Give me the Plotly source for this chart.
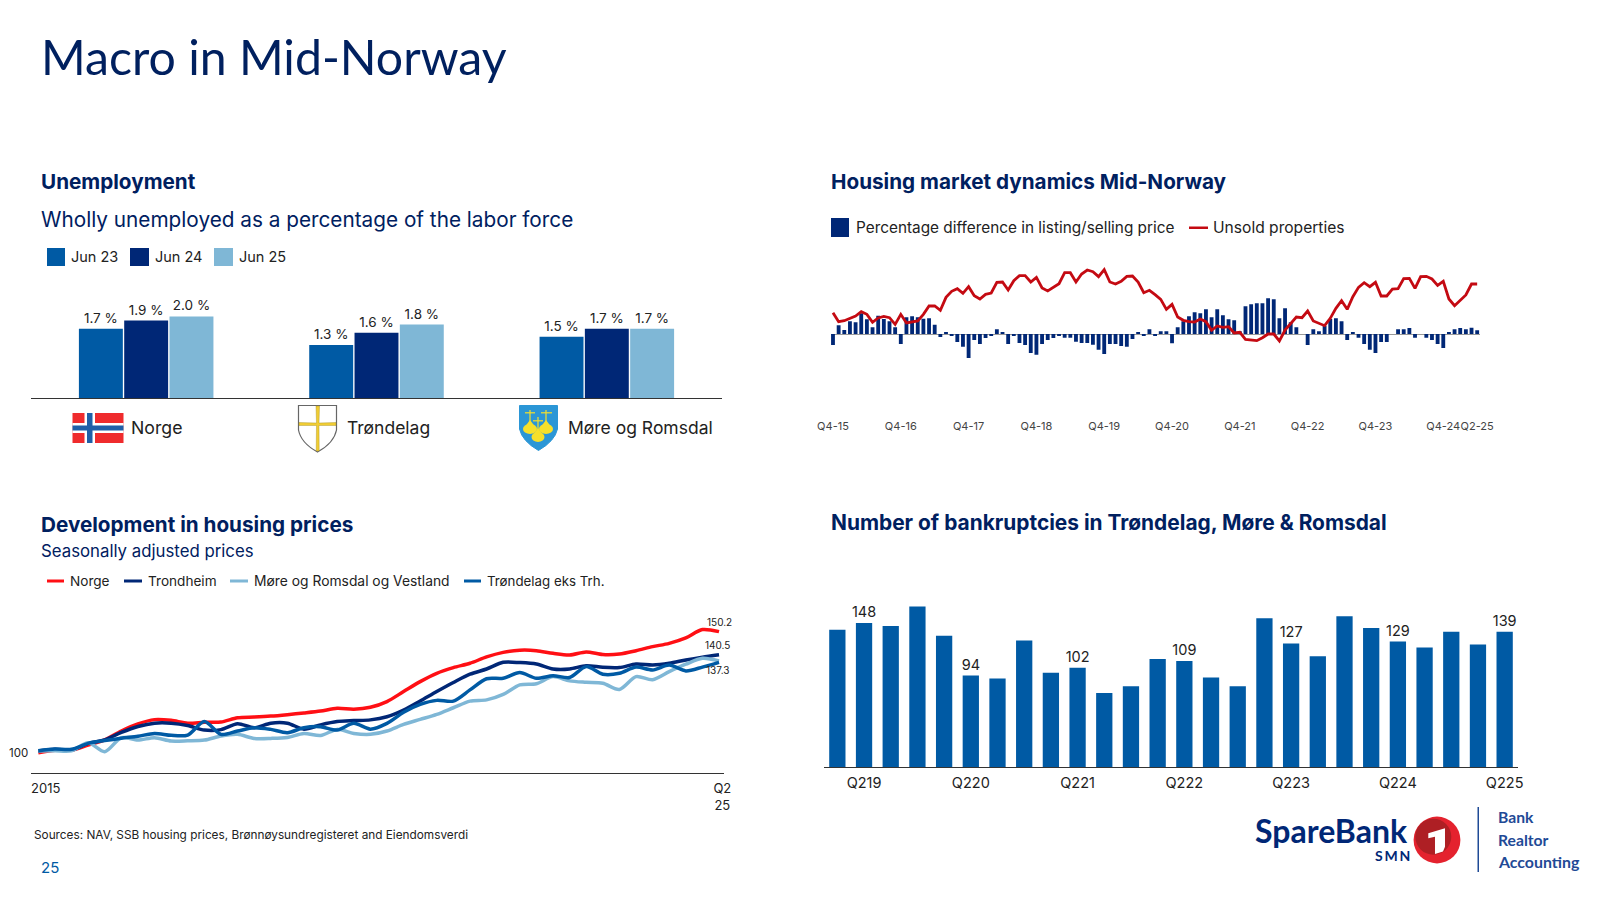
import re
import plotly.graph_objects as go

W, H = 1600, 900
NAVY = "#002776"
BLUE = "#005aa4"
LIGHT = "#7fb7d6"
TEXTNAVY = "#00205f"
INK = "#222222"
FONT = "Inter"

# ---- Unemployment
regions = ["Norge", "Trøndelag", "Møre og Romsdal"]
jun23 = [1.7, 1.3, 1.5]
jun24 = [1.9, 1.6, 1.7]
jun25 = [2.0, 1.8, 1.7]

# ---- Housing market dynamics (monthly, index units)
dyn_ticks = ["Q4-15", "Q4-16", "Q4-17", "Q4-18", "Q4-19", "Q4-20", "Q4-21", "Q4-22", "Q4-23", "Q4-24", "Q2-25"]
dyn_tick_pos = [0, 12, 24, 36, 48, 60, 72, 84, 96, 108, 114]
listing_diff = [-33, 26, 12, 38, 35, 62, 44, 20, 55, 45, 38, 20, -30, 50, 53, 50, 46, 47, 28, -9,
                5, -5, -24, -38, -72, -18, -30, -12, -6, 14, 5, -30, -5, -27, -33, -57, -62, -30, -18, -12,
                -5, -11, -11, -23, -27, -27, -32, -47, -60, -30, -30, -36, -38, -15, 5, -5, 14, -6, 8, 8,
                -28, 20, 38, 53, 65, 62, 74, 50, 74, 56, 44, 41, 8, 83, 89, 92, 92, 107, 104, 47,
                77, 35, 20, 0, -33, 14, 8, 25, 45, 47, 38, -18, 5, -11, -30, -47, -57, -24, -24, 0,
                14, 14, 18, -11, 0, -11, -18, -30, -42, 5, 14, 18, 14, 19, 11]
unsold = [64, 37, 40, 46, 54, 67, 59, 35, 48, 53, 49, 29, 59, 33, 36, 39, 59, 84, 84, 71,
          110, 128, 136, 122, 142, 115, 105, 119, 123, 155, 156, 132, 160, 175, 175, 156, 170, 138, 129, 140,
          151, 184, 184, 156, 180, 192, 187, 172, 193, 156, 150, 158, 173, 174, 156, 124, 131, 118, 104, 74,
          89, 51, 41, 37, 36, 45, 37, 11, 24, 20, 22, 3, 5, -16, -18, -20, -11, 0, 0, -21,
          12, 32, 51, 49, 69, 39, 33, 25, 47, 77, 100, 74, 112, 140, 154, 142, 155, 114, 114, 135,
          136, 166, 167, 137, 172, 173, 165, 146, 158, 105, 85, 102, 117, 150, 150]

# ---- Housing prices (quarterly index, 2015 = 100)
price_norge = [99.3, 100.3, 100.4, 102.5, 104.7, 108.4, 111.4, 113.2, 112.9, 111.7, 112.1, 112.2, 114.0, 114.3,
               114.7, 115.3, 116.0, 116.8, 118.0, 117.6, 118.4, 120.8, 125.0, 129.2, 132.7, 135.1, 136.9, 139.6,
               141.5, 142.4, 142.2, 141.1, 140.4, 141.7, 140.6, 140.8, 142.2, 143.9, 145.3, 147.6, 151.1, 150.2]
price_trondheim = [100.0, 100.7, 100.4, 103.2, 104.7, 107.8, 110.3, 111.7, 111.7, 110.7, 108.8, 109.0, 111.5, 109.8,
                   111.7, 111.7, 109.2, 111.0, 112.4, 112.8, 113.1, 114.4, 117.2, 121.0, 125.0, 128.8, 132.3, 134.5,
                   137.3, 137.2, 136.6, 134.5, 134.5, 135.9, 135.2, 135.1, 136.6, 136.2, 136.9, 138.3, 139.5, 140.5]
price_more = [100.0, 100.1, 100.1, 103.5, 99.7, 105.6, 104.6, 105.6, 104.2, 104.3, 104.6, 106.3, 107.0, 105.3,
              105.3, 105.7, 107.4, 106.5, 109.1, 107.4, 107.0, 108.4, 111.2, 113.3, 115.4, 118.2, 121.0, 121.5,
              123.8, 127.8, 128.3, 131.3, 129.5, 128.9, 128.5, 125.9, 131.3, 130.0, 133.4, 136.5, 139.0, 137.9]
price_trl = [100.1, 100.8, 100.7, 103.2, 104.4, 105.4, 106.2, 107.4, 106.6, 106.7, 112.4, 107.0, 108.4, 109.8,
             109.1, 107.7, 109.8, 110.2, 108.8, 111.7, 109.2, 111.6, 116.3, 119.6, 121.3, 121.0, 125.7, 130.4,
             130.6, 133.0, 130.6, 131.7, 130.9, 135.5, 132.3, 132.7, 135.3, 134.1, 136.2, 133.7, 135.3, 137.3]
price_labels = ["150.2", "140.5", "137.3"]

# ---- Bankruptcies
bk_quarters = ["Q119", "Q219", "Q319", "Q419", "Q120", "Q220", "Q320", "Q420", "Q121", "Q221", "Q321", "Q421", "Q122",
               "Q222", "Q322", "Q422", "Q123", "Q223", "Q323", "Q423", "Q124", "Q224", "Q324", "Q424", "Q125", "Q225"]
bk_values = [141, 148, 145, 165, 135, 94, 91, 130, 97, 102, 76, 83, 111, 109, 92, 83, 153, 127, 114, 155, 143, 129,
             123, 139, 126, 139]
bk_labelled = ["Q219", "Q220", "Q221", "Q222", "Q223", "Q224", "Q225"]


def px(x):
    return x / W


def py(y):
    return 1 - y / H


def txt(x, y, s, size, color=INK, bold=False, anchor="left", family=FONT):
    return dict(x=px(x), y=py(y), xref="paper", yref="paper", text=f"<b>{s}</b>" if bold else s,
                showarrow=False, xanchor=anchor, yanchor="middle",
                font=dict(size=size, color=color, family=family), borderpad=0, borderwidth=0)


def rect(x0, y0, x1, y1, fill):
    return dict(type="rect", xref="paper", yref="paper", x0=px(x0), x1=px(x1), y0=py(y0), y1=py(y1),
                fillcolor=fill, line=dict(width=0), layer="above")


def circ(cx, cy, rx, ry, fill, line=None):
    return dict(type="circle", xref="paper", yref="paper", x0=px(cx - rx), x1=px(cx + rx), y0=py(cy - ry),
                y1=py(cy + ry), fillcolor=fill, line=dict(width=0) if line is None else line, layer="above")


def path(d, fill=None, line=None):
    out, is_x = [], True
    for tok in re.findall(r"[A-Za-z]|-?\d+\.?\d*", d):
        if tok.isalpha():
            out.append(tok)
        else:
            out.append(f"{px(float(tok)):.5f}" if is_x else f"{py(float(tok)):.5f}")
            is_x = not is_x
    s = dict(type="path", xref="paper", yref="paper", path=" ".join(out), layer="above",
             line=line or dict(width=0))
    if fill:
        s["fillcolor"] = fill
    return s


fig = go.Figure()

# Unemployment bars
for name, vals, col in (("Jun 23", jun23, BLUE), ("Jun 24", jun24, NAVY), ("Jun 25", jun25, LIGHT)):
    fig.add_trace(go.Bar(x=regions, y=vals, name=name, marker=dict(color=col, line=dict(width=0)),
                         text=[f"{v:.1f} %" for v in vals], textposition="outside", cliponaxis=False,
                         constraintext="none", textfont=dict(size=13.5, color=INK, family=FONT),
                         xaxis="x", yaxis="y"))

# Housing dynamics
fig.add_trace(go.Bar(x=list(range(len(listing_diff))), y=listing_diff, width=0.68, marker=dict(color=NAVY, line=dict(width=0)),
                     name="Percentage difference in listing/selling price", xaxis="x2", yaxis="y2"))
fig.add_trace(go.Scatter(x=list(range(len(unsold))), y=unsold, mode="lines", line=dict(color="#c40a12", width=2.8),
                         name="Unsold properties", xaxis="x2", yaxis="y2"))

# Housing prices
qx = list(range(len(price_norge)))
for name, vals, col in (("Norge", price_norge, "#ff0f14"), ("Trondheim", price_trondheim, NAVY),
                        ("Møre og Romsdal og Vestland", price_more, LIGHT), ("Trøndelag eks Trh.", price_trl, BLUE)):
    fig.add_trace(go.Scatter(x=qx, y=vals, mode="lines", name=name, cliponaxis=False,
                             line=dict(color=col, width=3.5, shape="spline", smoothing=0.8), xaxis="x3", yaxis="y3"))

# Bankruptcies
fig.add_trace(go.Bar(x=bk_quarters, y=bk_values, width=0.61, marker=dict(color=BLUE, line=dict(width=0)), name="Bankruptcies",
                     text=[str(v) if q in bk_labelled else "" for q, v in zip(bk_quarters, bk_values)],
                     textposition="outside", cliponaxis=False, constraintext="none",
                     textfont=dict(size=14.5, color=INK, family=FONT), xaxis="x4", yaxis="y4"))

ann = [
    txt(41, 56, "Macro in Mid-Norway", 48.2, TEXTNAVY, family="Lato"),
    txt(41, 181, "Unemployment", 20.7, TEXTNAVY, True),
    txt(41, 219.5, "Wholly unemployed as a percentage of the labor force", 20.75, TEXTNAVY),
    txt(71, 256, "Jun 23", 14.5), txt(155, 256, "Jun 24", 14.5), txt(239, 256, "Jun 25", 14.5),
    txt(131, 428, "Norge", 17.7), txt(347, 428, "Trøndelag", 17.5), txt(568, 428, "Møre og Romsdal", 17.5),
    txt(831, 181, "Housing market dynamics Mid-Norway", 20.7, TEXTNAVY, True),
    txt(856, 227.5, "Percentage difference in listing/selling price", 15.35),
    txt(1213, 227.5, "Unsold properties", 15.6),
    txt(41, 524.5, "Development in housing prices", 20.7, TEXTNAVY, True),
    txt(41, 551, "Seasonally adjusted prices", 16.8, TEXTNAVY),
    txt(70, 581, "Norge", 13.6), txt(148, 581, "Trondheim", 13.6),
    txt(254, 581, "Møre og Romsdal og Vestland", 13.85), txt(487, 581, "Trøndelag eks Trh.", 13.3),
    txt(831, 522.5, "Number of bankruptcies in Trøndelag, Møre &amp; Romsdal", 20.9, TEXTNAVY, True),
    txt(34, 835, "Sources: NAV, SSB housing prices, Brønnøysundregisteret and Eiendomsverdi", 11.8),
    txt(41, 867, "25", 15, BLUE),
    # logo
    txt(1255, 830, "SpareBank", 32, NAVY, True, family="Lato"),
    txt(1410, 855.5, "S\u2009M\u2009N", 14, NAVY, True, anchor="right", family="Lato"),
    txt(1498, 817, "Bank", 15.7, "#1f4a96", True, family="Lato"),
    txt(1498, 840, "Realtor", 15.7, "#1f4a96", True, family="Lato"),
    txt(1498, 861.5, "Accounting", 15.9, "#1f4a96", True, family="Lato"),
    # value labels on the price chart
    dict(x=-0.44, y=100, xref="x3", yref="y3", text="100", showarrow=False, xanchor="right", yshift=-2, xshift=-1,
         font=dict(size=11.5, color=INK, family=FONT)),
    dict(x=qx[-1], y=price_norge[-1], xref="x3", yref="y3", text=price_labels[0], showarrow=False, yshift=10,
         xshift=0, font=dict(size=10, color=INK, family=FONT)),
    dict(x=qx[-1], y=price_trondheim[-1], xref="x3", yref="y3", text=price_labels[1], showarrow=False, yshift=10,
         xshift=-2, font=dict(size=10, color=INK, family=FONT)),
    dict(x=qx[-1], y=price_trl[-1], xref="x3", yref="y3", text=price_labels[2], showarrow=False, yshift=-8,
         xshift=-2, font=dict(size=10, color=INK, family=FONT)),
]

BELL = "#f7e02a"
shapes = [
    # legends
    rect(47, 248, 65, 266, BLUE), rect(130, 248, 149, 266, NAVY), rect(214, 248, 233, 266, LIGHT),
    rect(831, 218, 849, 237, NAVY), rect(1189, 226.5, 1208, 229, "#c40a12"),
    rect(47, 579.5, 64, 582.5, "#ff0f14"), rect(124, 579.5, 142, 582.5, NAVY),
    rect(230, 579.5, 248, 582.5, LIGHT), rect(464, 579.5, 481, 582.5, BLUE),
    # Norwegian flag
    rect(72.5, 413, 123.5, 443, "#ef2b2d"), rect(84.5, 413, 95, 443, "#ffffff"), rect(72.5, 423, 123.5, 433, "#ffffff"),
    rect(87, 413, 92.5, 443, "#1f5fa8"), rect(72.5, 425.5, 123.5, 430.5, "#1f5fa8"),
    # Trøndelag crest
    path("M 298.5 405.5 L 336.5 405.5 L 336.5 430 Q 334 443 317.5 452 Q 301 443 298.5 430 Z", "#ffffff",
         dict(color="#666666", width=1.2)),
    path("M 316 406 L 319.5 406 L 319 423 L 336 422.5 L 336 425.5 L 319 425.5 L 319.2 451 L 316.2 451 L 316.5 425.5 L 299 425.5 L 299 422.5 L 316.5 423 Z",
         "#f1cd33", dict(color="#a08a20", width=0.4)),
    # Møre crest
    path("M 519.5 405.5 L 557.5 405.5 L 557.5 429 Q 555 441 538.5 450.5 Q 522 441 519.5 429 Z", "#2b96d6",
         dict(color="#2b96d6", width=1)),
    circ(530, 429, 7, 5, BELL), circ(546, 429, 7, 5, BELL), circ(538, 437, 6.5, 5, BELL),
    path("M 530 420 L 524 428 L 536 428 Z", BELL), path("M 546 420 L 540 428 L 552 428 Z", BELL),
    path("M 538 428 L 532.5 436 L 543.5 436 Z", BELL),
    rect(529.4, 410, 530.6, 423, BELL), rect(545.4, 410, 546.6, 423, BELL), rect(537.4, 417, 538.6, 430, BELL),
    rect(525, 412.2, 535, 413.4, BELL), rect(541, 412.2, 552, 413.4, BELL), rect(533, 420.2, 543, 421.4, BELL),
    # logo mark
    circ(1437, 840, 23.4, 23.4, "#e4222e"),
    circ(1433.3, 836.7, 18, 18, "#ae1f24"),
    path("M 1428.3 833.3 L 1445 828.3 L 1445 846.7 L 1443 851.5 L 1435 854 L 1435 836.7 L 1428.3 838.3 Z", "#ffffff"),
    rect(1477.5, 807, 1479, 872, "#1f4a96"),
]

ANN_AX = dict(showgrid=False, zeroline=False, fixedrange=True, automargin=False)

fig.update_layout(
    template="none",
    width=W, height=H, margin=dict(l=0, r=0, t=0, b=0), paper_bgcolor="white", plot_bgcolor="white",
    showlegend=False, barmode="group", bargap=0.41, bargroupgap=0.03,
    font=dict(family=FONT, color=INK),
    annotations=ann, shapes=shapes,
    xaxis=dict(domain=[px(31), px(722)], anchor="y", showticklabels=False, ticks="", showline=True,
               linecolor="#333333", linewidth=1.3, **ANN_AX),
    yaxis=dict(domain=[py(398), py(292)], anchor="x", range=[0, 2.6], visible=False, **ANN_AX),
    xaxis2=dict(domain=[px(830.5), px(1480)], anchor="y2", range=[-0.44, 114.5], tickmode="array",
                tickvals=dyn_tick_pos, ticktext=dyn_ticks, ticks="", showline=False, showgrid=False,
                zeroline=False, automargin=False, tickfont=dict(size=11, color="#444444", family=FONT), tickangle=0, fixedrange=True),
    yaxis2=dict(domain=[py(418), py(260)], anchor="x2", range=[-252, 222], showticklabels=False, ticks="",
                showgrid=False, zeroline=True, automargin=False, zerolinecolor="#999999", zerolinewidth=1.4, fixedrange=True),
    xaxis3=dict(domain=[px(31), px(724)], anchor="y3", range=[-0.44, 41.3], tickmode="array",
                tickvals=[0.45, 41.2], ticktext=["2015", "Q2<br>25"], ticks="outside", ticklen=3, tickcolor="rgba(0,0,0,0)",
                showline=True, linecolor="#333333", linewidth=1.2, tickfont=dict(size=13, color=INK, family=FONT), tickangle=0, **ANN_AX),
    yaxis3=dict(domain=[py(773), py(606)], anchor="x3", range=[90.75, 161], showticklabels=False, ticks="",
                showline=False, **ANN_AX),
    xaxis4=dict(domain=[px(824), px(1518)], anchor="y4", range=[-0.5, 25.5], type="category",
                tickmode="array", tickvals=bk_labelled, ticktext=bk_labelled, ticks="outside", ticklen=2, tickcolor="rgba(0,0,0,0)",
                showline=True, linecolor="#333333", linewidth=1.3, tickfont=dict(size=14.5, color=INK, family=FONT), tickangle=0, **ANN_AX),
    yaxis4=dict(domain=[py(767), py(590)], anchor="x4", range=[0, 182], visible=False, **ANN_AX),
)

fig.write_html("out.html", config=dict(displayModeBar=False),
               post_script="document.body.style.margin='0';")
